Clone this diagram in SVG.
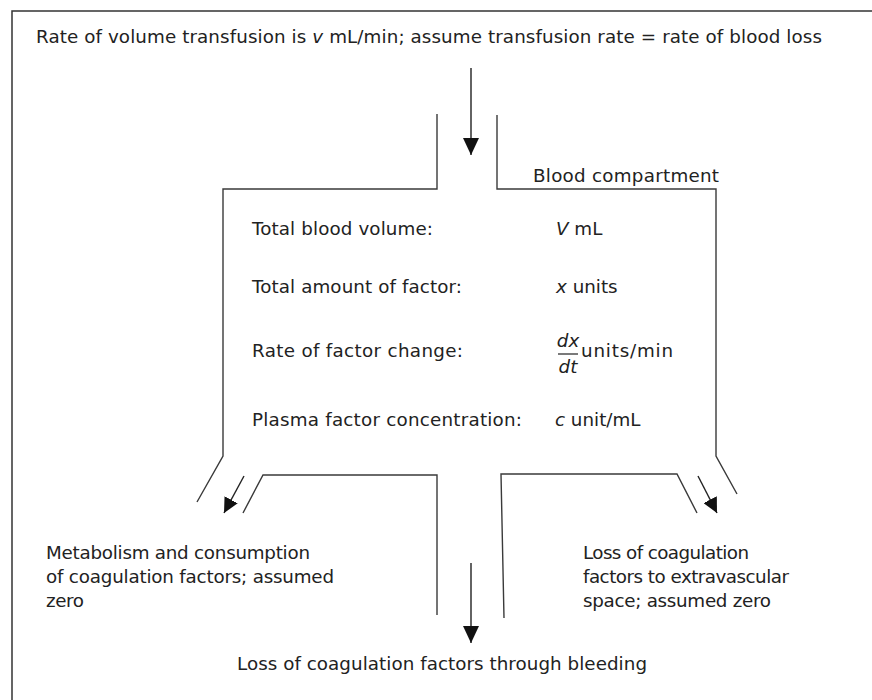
<svg xmlns="http://www.w3.org/2000/svg" width="872" height="700" viewBox="0 0 872 700">
<defs>
<style>
text{font-family:"DejaVu Sans","Liberation Sans",sans-serif;font-size:18.3px;fill:#222}
.i{font-style:italic}
.wall{fill:none;stroke:#3a3a3a;stroke-width:1.4}
.conn{fill:none;stroke:#222;stroke-width:1.4}
</style>
<marker id="ah" viewBox="0 0 17 16" refX="17" refY="8" markerWidth="17" markerHeight="16" markerUnits="userSpaceOnUse" orient="auto"><path d="M0,0 L17,8 L0,16 Z" fill="#111"/></marker>
<marker id="ahs" viewBox="0 0 15 15" refX="15" refY="7.5" markerWidth="15" markerHeight="15" markerUnits="userSpaceOnUse" orient="auto"><path d="M0,0 L15,7.5 L0,15 Z" fill="#111"/></marker>
</defs>
<rect x="0" y="0" width="872" height="700" fill="#fff"/>
<rect id="frame" x="12" y="11" width="900" height="720" fill="none" stroke="#333" stroke-width="1.5"/>
<g id="source">
<text x="36" y="43" textLength="786">Rate of volume transfusion is <tspan class="i">v</tspan> mL/min; assume transfusion rate = rate of blood loss</text>
</g>
<g id="compartment">
<polyline class="wall" points="437,114 437,189 223,189 223,456 197,502"/>
<polyline class="wall" points="497,115 497,189 716,189 716,456 737,494"/>
<polyline class="wall" points="243,513 263,475 437,475 437,615"/>
<polyline class="wall" points="504,618 501,474 677,474 697,513"/>
<text x="533" y="182" textLength="186">Blood compartment</text>
<text x="252" y="235" textLength="181">Total blood volume:</text>
<text x="556" y="235"><tspan class="i">V</tspan> mL</text>
<text x="252" y="293" textLength="210">Total amount of factor:</text>
<text x="556" y="293"><tspan class="i">x</tspan> units</text>
<text x="252" y="357" textLength="211">Rate of factor change:</text>
<text class="i" x="568" y="347" text-anchor="middle">dx</text>
<line x1="558" y1="354" x2="578" y2="354" stroke="#222" stroke-width="1.2"/>
<text class="i" x="568" y="373" text-anchor="middle">dt</text>
<text x="581" y="357" textLength="92">units/min</text>
<text x="252" y="426" textLength="270">Plasma factor concentration:</text>
<text x="555" y="426"><tspan class="i">c</tspan> unit/mL</text>
</g>
<g id="metabolism">
<text x="46" y="559" textLength="264">Metabolism and consumption</text>
<text x="46" y="583" textLength="288">of coagulation factors; assumed</text>
<text x="46" y="607" textLength="38">zero</text>
</g>
<g id="extravascular">
<text x="583" y="559" textLength="166">Loss of coagulation</text>
<text x="583" y="583" textLength="206">factors to extravascular</text>
<text x="583" y="607" textLength="188">space; assumed zero</text>
</g>
<g id="bleeding">
<text x="237" y="670" textLength="410">Loss of coagulation factors through bleeding</text>
</g>
<g id="connectors">
<line class="conn" x1="471" y1="68" x2="471" y2="155" marker-end="url(#ah)"/>
<line class="conn" x1="244" y1="476" x2="224" y2="513" marker-end="url(#ahs)"/>
<line class="conn" x1="698" y1="476" x2="717" y2="513" marker-end="url(#ahs)"/>
<line class="conn" x1="471" y1="563" x2="471" y2="643" marker-end="url(#ah)"/>
</g>
</svg>
